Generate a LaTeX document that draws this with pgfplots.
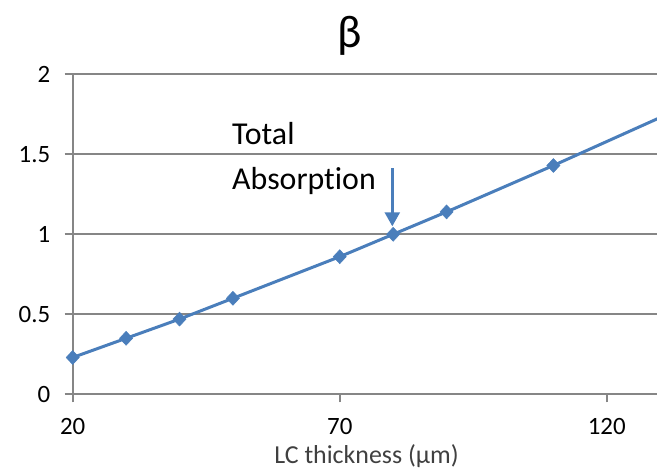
\documentclass[border=0pt]{standalone}
\usepackage{pgfplots}
\pgfplotsset{compat=1.18}
\usepackage{fontspec}
\setmainfont[Ligatures=NoCommon]{Carlito}
\usetikzlibrary{arrows.meta}
\definecolor{exblue}{HTML}{4A7EBB}
\definecolor{exgrid}{HTML}{868686}
\definecolor{extext}{HTML}{404040}

\begin{document}
\begin{tikzpicture}
\path[use as bounding box] (-72.7bp,-73.7bp) rectangle (584.3bp,394.3bp);
\begin{axis}[
    at={(0,0)}, anchor=origin,
    scale only axis,
    width=584.3bp, height=320bp,
    xmin=20, xmax=129.4, ymin=0, ymax=2,
    xtick={20,70,120},
    ytick={0,0.5,1,1.5,2},
    yticklabels={0,0.5,1,1.5,2},
    axis x line*=bottom, axis y line*=left,
    axis line style={exgrid, line width=1.8bp},
    ymajorgrids,
    major grid style={exgrid, line width=1.8bp},
    tick align=outside,
    major tick length=8bp,
    tick style={exgrid, line width=1.8bp},
    ticklabel style={font=\fontsize{25}{30}\selectfont, text=black},
    xticklabel style={yshift=-13bp},
    yticklabel style={xshift=-11bp},
    /pgf/number format/assume math mode=true,
    clip=true,
]
\addplot[exblue, line width=3bp, mark=diamond*, mark size=7bp,
    mark options={xscale=1.25, fill=exblue, draw=exblue, line width=0.5bp}]
coordinates {
    (20,0.23) (30,0.35) (40,0.47) (50,0.60) (70,0.86)
    (80,1.00) (90,1.14) (110,1.43) (130,1.73)
};
\end{axis}
% annotations
\draw[exblue, line width=2.5bp, -{Triangle[length=14bp,width=15bp]}]
    (319.6bp,226bp) -- (319.6bp,168bp);
\node[anchor=base west, inner sep=0pt, font=\fontsize{32}{38}\selectfont] at (159.3bp,250bp) {Total};
\node[anchor=base west, inner sep=0pt, font=\fontsize{32}{38}\selectfont] at (159.3bp,205bp) {Absorption};
\node[anchor=base, inner sep=0pt, text=extext, font=\fontsize{26}{30}\selectfont] at (293.8bp,-68.7bp) {LC thickness (μm)};
\node[anchor=center, inner sep=0pt, font=\fontsize{46}{50}\selectfont] at (277bp,358bp) {β};
\end{tikzpicture}
\end{document}
